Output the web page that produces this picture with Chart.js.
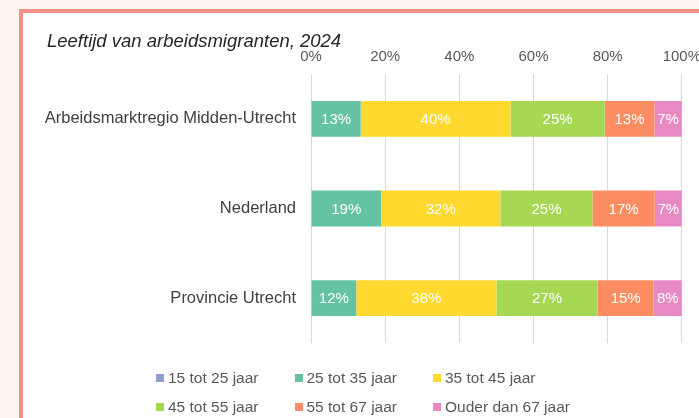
<!DOCTYPE html>
<html><head><meta charset="utf-8">
<script src="https://cdn.jsdelivr.net/npm/chart.js@4/dist/chart.umd.min.js"></script>
<style>
html,body{margin:0;padding:0;}
body{width:699px;height:418px;overflow:hidden;background:#fef7ef;position:relative;font-family:"Liberation Sans",Arial,sans-serif;}
#panel{position:absolute;left:19px;top:9px;width:700px;height:430px;background:#fff;border:4px solid #f4928a;box-sizing:border-box;}
#wrap{position:absolute;left:0;top:0;width:709px;height:418px;}
#title{position:absolute;left:47px;top:30px;font-size:18.5px;font-style:italic;color:#262626;white-space:nowrap;line-height:21px;}
#legend{position:absolute;left:156px;top:369px;display:grid;grid-template-columns:138.5px 138.5px 160px;row-gap:11px;}
.li{display:flex;align-items:center;font-size:15.5px;color:#595959;height:18px;white-space:nowrap;}
.bx{width:8px;height:8px;margin-right:4px;flex:none;}
</style></head>
<body>
<div id="panel"></div>
<div id="wrap"><canvas id="c" width="709" height="418"></canvas></div>
<div id="title">Leeftijd van arbeidsmigranten, 2024</div>
<div id="legend"></div>
<script>
const categories = ["Arbeidsmarktregio Midden-Utrecht", "Nederland", "Provincie Utrecht"];
const seriesNames = ["15 tot 25 jaar", "25 tot 35 jaar", "35 tot 45 jaar", "45 tot 55 jaar", "55 tot 67 jaar", "Ouder dan 67 jaar"];
const age15to25 = [0, 0, 0];
const age25to35 = [13.4, 18.9, 12.2];
const age35to45 = [40.4, 32.2, 37.8];
const age45to55 = [25.4, 24.8, 27.3];
const age55to67 = [13.4, 16.8, 15.1];
const age67plus = [7.4, 7.3, 7.6];
const xTicks = [0, 20, 40, 60, 80, 100];
const colors = ["#8da0cb", "#66c2a5", "#ffd92f", "#a6d854", "#fc8d62", "#e78ac3"];

const seriesValues = [age15to25, age25to35, age35to45, age45to55, age55to67, age67plus];

const labelPlugin = {
  id: 'barLabels',
  afterDatasetsDraw(chart) {
    const ctx = chart.ctx;
    ctx.save();
    ctx.font = '15px "Liberation Sans", Arial, sans-serif';
    ctx.fillStyle = '#ffffff';
    ctx.textAlign = 'center';
    ctx.textBaseline = 'middle';
    chart.data.datasets.forEach((ds, di) => {
      const meta = chart.getDatasetMeta(di);
      meta.data.forEach((bar, i) => {
        const v = ds.data[i];
        if (v < 3) return;
        const p = bar.getProps(['x', 'base', 'y'], true);
        ctx.fillText(Math.round(v) + '%', (p.x + p.base) / 2, p.y + 1);
      });
    });
    ctx.restore();
  }
};

new Chart(document.getElementById('c'), {
  type: 'bar',
  data: {
    labels: categories,
    datasets: seriesNames.map((n, k) => ({
      label: n,
      data: seriesValues[k],
      backgroundColor: colors[k],
      borderWidth: 0,
      categoryPercentage: 0.8,
      barPercentage: 0.5
    }))
  },
  options: {
    indexAxis: 'y',
    responsive: false,
    animation: false,
    layout: { padding: { left: 0, top: 0, right: 0, bottom: 75 } },
    plugins: { legend: { display: false }, tooltip: { enabled: false } },
    scales: {
      x: {
        position: 'top',
        stacked: true,
        min: 0, max: 100,
        afterBuildTicks(scale) { scale.ticks = xTicks.map(v => ({ value: v })); },
        afterFit(scale) { scale.height = 74; },
        ticks: {
          callback: v => v + '%',
          color: '#595959',
          font: { family: '"Liberation Sans", Arial, sans-serif', size: 15 },
          padding: 8,
          maxRotation: 0
        },
        grid: { color: '#d9d9d9', lineWidth: 1, drawTicks: false },
        border: { display: false }
      },
      y: {
        stacked: true,
        afterFit(scale) { scale.width = 311; },
        ticks: {
          color: '#404040',
          font: { family: '"Liberation Sans", Arial, sans-serif', size: 16.5 },
          padding: 15
        },
        grid: { display: false, drawTicks: false },
        border: { display: false }
      }
    }
  },
  plugins: [labelPlugin]
});

const lg = document.getElementById('legend');
seriesNames.forEach((n, k) => {
  const d = document.createElement('div');
  d.className = 'li';
  d.innerHTML = '<span class="bx" style="background:' + colors[k] + '"></span><span>' + n + '</span>';
  lg.appendChild(d);
});
</script>
</body></html>
